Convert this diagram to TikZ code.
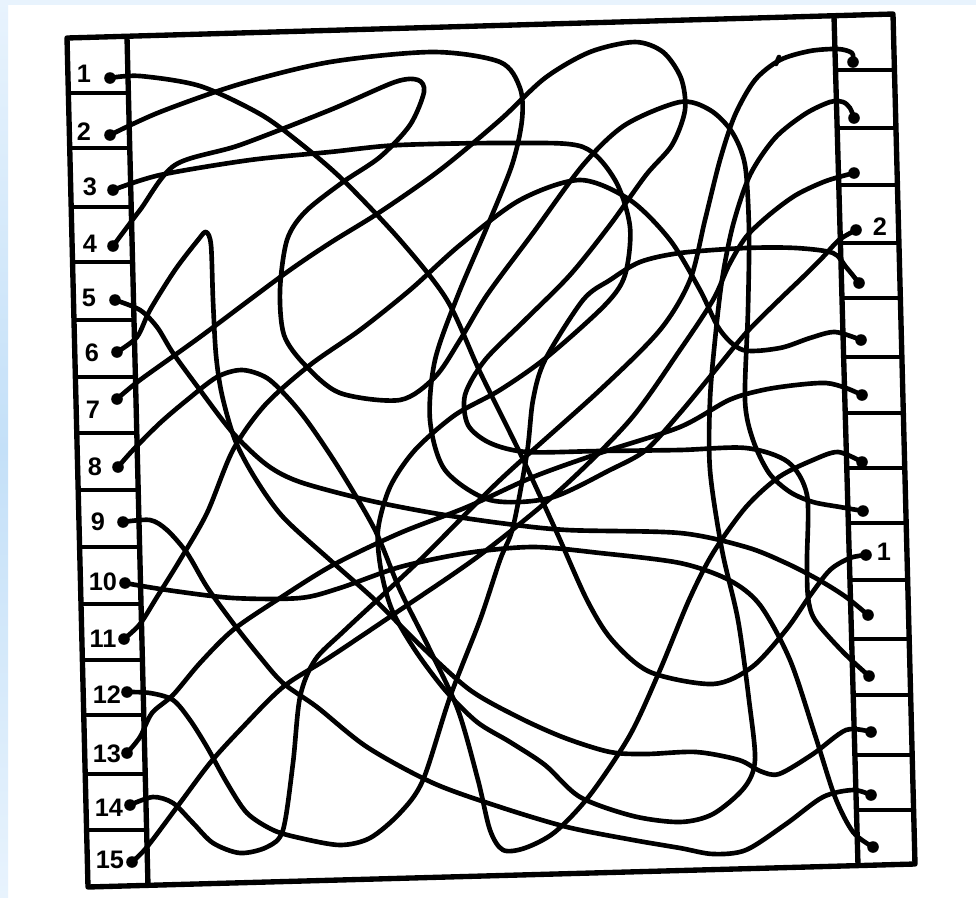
\documentclass[tikz,border=0pt]{standalone}
\usepackage{fontspec}
\setmainfont{Liberation Sans}
\definecolor{bgblue}{RGB}{232,243,253}
\definecolor{bgblue2}{RGB}{196,224,248}
\begin{document}
\begin{tikzpicture}[x=0.025cm,y=-0.025cm,
  wire/.style={line width=3.3pt,line cap=round,line join=round},
  framel/.style={line width=3.8pt,line join=round},
  sepl/.style={line width=2.6pt},
  dot/.style={circle,fill=black,inner sep=0pt,minimum size=0.29cm},
  lab/.style={font=\fontsize{18}{18}\selectfont\bfseries,inner sep=0pt}]
\useasboundingbox (0,0) rectangle (976,897);
% background
\fill[white] (0,0) rectangle (976,897);
\shade[top color=bgblue, bottom color=bgblue, middle color=bgblue2] (0,0) rectangle (8,897);
\fill[bgblue] (0,0) rectangle (976,5);
% frame
\draw[framel] (67,38) -- (893,14) -- (915,864) -- (88,887) -- cycle;
\draw[framel] (127,37) -- (148,886);
\draw[framel] (834,16) -- (858,865);
\foreach \y in {93,148,207,262,320,377,433,490,547,604,660,715,774,830}
  \draw[sepl] ({67+0.0248*(\y-38)},\y) -- ({127+0.0248*(\y-38)},\y);
\foreach \y in {70,128,185,243,298,357,413,468,523,580,639,695,755,810}
  \draw[sepl] ({834+0.0283*(\y-16)},\y) -- ({893+0.0259*(\y-14)},\y);
% left dots and labels
\node[dot] (l1) at (110,78) {};  \node[lab] (n1) at (84,74) {1};
\node[dot] (l2) at (110,135) {}; \node[lab] (n2) at (84,132) {2};
\node[dot] (l3) at (113,190) {}; \node[lab] (n3) at (90,187) {3};
\node[dot] (l4) at (113,246) {}; \node[lab] (n4) at (90,244) {4};
\node[dot] (l5) at (115,300) {}; \node[lab] (n5) at (89,298) {5};
\node[dot] (l6) at (117,352) {}; \node[lab] (n6) at (92,353) {6};
\node[dot] (l7) at (117,399) {}; \node[lab] (n7) at (93,410) {7};
\node[dot] (l8) at (118,467) {}; \node[lab] (n8) at (95,467) {8};
\node[dot] (l9) at (123,522) {}; \node[lab] (n9) at (98,522) {9};
\node[dot] (l10) at (125,583) {}; \node[lab] (n10) at (103,582) {10};
\node[dot] (l11) at (124,639) {}; \node[lab] (n11) at (103,639) {11};
\node[dot] (l12) at (127,692) {}; \node[lab] (n12) at (107,695) {12};
\node[dot] (l13) at (127,753) {}; \node[lab] (n13) at (107,754) {13};
\node[dot] (l14) at (130,805) {}; \node[lab] (n14) at (109,808) {14};
\node[dot] (l15) at (132,862) {}; \node[lab] (n15) at (110,860) {15};
% right dots
\node[dot] (r1) at (853,62) {};
\node[dot] (r2) at (854,118) {};
\node[dot] (r3) at (854,173) {};
\node[dot] (r4) at (856,230) {}; \node[lab] (m2) at (880,227) {2};
\node[dot] (r5) at (859,283) {};
\node[dot] (r6) at (861,340) {};
\node[dot] (r7) at (862,395) {};
\node[dot] (r8) at (862,462) {};
\node[dot] (r9) at (863,511) {};
\node[dot] (r10) at (866,555) {}; \node[lab] (m1) at (884,552) {1};
\node[dot] (r11) at (868,615) {};
\node[dot] (r12) at (869,676) {};
\node[dot] (r13) at (871,732) {};
\node[dot] (r14) at (871,795) {};
\node[dot] (r15) at (873,847) {};
% wires
\draw[wire] plot[smooth] coordinates {(l1) (140,76) (200,86) (260,114) (300,143) (343,180) (400,240) (447,300) (480,372) (520,453) (557,533) (587,600) (612,640) (650,672) (713,684) (752,667) (786,630) (809,597) (830,570) (850,558) (r10)};
\draw[wire] plot[smooth] coordinates {(l2) (160,112) (240,84) (330,62) (433,52) (500,62) (520,88) (522,120) (512,165) (487,227) (458,295) (435,360) (430,420) (445,470) (490,500) (550,498) (610,470) (646,450) (680,413) (713,373) (746,333) (779,300) (803,277) (823,257) (839,240) (r4)};
\draw[wire] plot[smooth] coordinates {(l3) (160,175) (250,160) (330,152) (400,145) (517,143) (583,147) (615,180) (630,227) (625,275) (605,305) (547,357) (500,390) (455,415) (415,450) (390,487) (378,530) (381,570) (392,610) (415,650) (445,690) (477,722) (510,742) (545,765) (580,797) (633,816) (680,822) (713,814) (744,788) (755,760) (749,700) (738,620) (722,550) (710,470) (710,400) (715,340) (722,280) (733,225) (750,175) (775,138) (805,114) (830,102) (843,102) (850,108) (r2)};
\draw[wire] plot[smooth] coordinates {(l4) (140,210) (175,165) (240,145) (330,110) (395,82) (418,80) (424,92) (410,125) (380,157) (343,182) (305,212) (287,240) (280,290) (284,335) (305,365) (340,393) (400,400) (435,377) (460,340) (487,295) (533,233) (583,165) (625,125) (680,102) (710,110) (732,132) (745,165) (749,230) (748,310) (745,400) (753,440) (769,473) (790,492) (813,502) (840,507) (r9)};
\draw[wire] plot[smooth] coordinates {(l5) (140,310) (157,327) (173,353) (200,390) (233,433) (267,465) (300,482) (367,500) (433,513) (500,523) (567,530) (680,533) (746,547) (786,563) (819,580) (846,597) (r11)};
\draw[wire] plot[smooth] coordinates {(l6) (137,337) (150,310) (175,270) (198,240) (206,232) (211,245) (213,300) (216,355) (222,395) (235,440) (255,478) (283,517) (330,560) (375,600) (420,645) (470,690) (520,718) (565,738) (610,752) (646,754) (696,752) (739,760) (760,771) (779,774) (813,754) (846,730) (r13)};
\draw[wire] plot[smooth] coordinates {(l7) (140,380) (200,337) (283,275) (330,243) (380,212) (440,170) (500,120) (545,78) (590,52) (635,42) (663,52) (681,78) (685,110) (672,145) (646,175) (610,225) (570,275) (525,320) (485,360) (465,395) (468,425) (490,443) (527,452) (600,451) (680,450) (746,448) (788,462) (807,495) (807,560) (808,597) (815,620) (843,652) (r12)};
\draw[wire] plot[smooth] coordinates {(l8) (133,450) (160,423) (187,400) (217,377) (242,370) (267,378) (290,400) (310,425) (340,470) (375,530) (400,590) (430,650) (458,710) (478,780) (490,830) (503,850) (525,848) (555,832) (590,795) (630,735) (660,670) (689,600) (713,553) (746,507) (779,477) (813,460) (838,452) (r8)};
\draw[wire] plot[smooth] coordinates {(l9) (150,520) (167,530) (187,553) (207,587) (233,623) (260,657) (283,683) (317,707) (367,747) (433,783) (500,807) (567,827) (633,840) (680,848) (713,854) (746,850) (786,824) (823,797) (853,790) (r14)};
\draw[wire] plot[smooth] coordinates {(l10) (167,590) (233,598) (300,598) (340,588) (400,567) (467,553) (533,547) (600,553) (680,563) (729,580) (760,605) (790,660) (815,735) (835,797) (853,832) (r15)};
\draw[wire] plot[smooth] coordinates {(l11) (140,624) (157,597) (180,560) (207,513) (233,450) (265,405) (310,365) (360,330) (410,290) (460,245) (520,200) (580,180) (630,200) (670,240) (700,290) (720,330) (743,350) (780,348) (810,338) (835,332) (r6)};
\draw[wire] plot[smooth] coordinates {(l12) (150,693) (173,700) (190,720) (207,747) (227,783) (247,813) (273,830) (300,838) (340,845) (370,838) (400,813) (423,780) (450,697) (480,620) (500,560) (513,527) (527,453) (533,400) (545,360) (583,300) (610,280) (640,262) (680,253) (746,248) (796,248) (833,253) (846,267) (r5)};
\draw[wire] plot[smooth] coordinates {(l13) (140,737) (152,713) (173,695) (200,663) (233,630) (277,600) (333,565) (400,533) (467,507) (533,477) (600,453) (680,427) (729,400) (763,390) (796,385) (826,383) (846,388) (r7)};
\draw[wire] plot[smooth] coordinates {(l14) (153,797) (173,803) (193,823) (213,843) (240,853) (267,847) (283,830) (293,763) (300,697) (315,660) (345,630) (420,560) (500,480) (600,390) (660,330) (690,280) (705,220) (720,160) (735,115) (755,80) (780,60) (810,51) (838,49) (852,53) (r1)};
\draw[wire] plot[smooth] coordinates {(l15) (147,847) (180,803) (210,763) (240,730) (283,687) (330,657) (400,610) (480,555) (560,490) (630,420) (680,350) (713,300) (729,265) (746,237) (769,215) (796,195) (826,181) (r3)};
\coordinate (tk) at (776,64);
\draw[wire] (779,57) -- (tk);
\end{tikzpicture}
\end{document}
